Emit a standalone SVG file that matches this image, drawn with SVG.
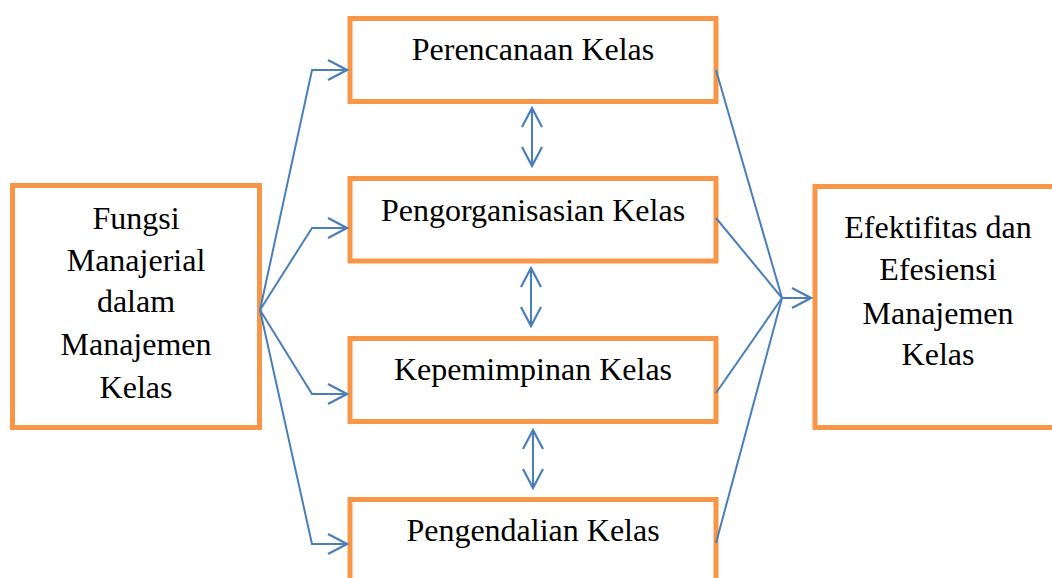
<svg xmlns="http://www.w3.org/2000/svg" width="1052" height="578" viewBox="0 0 1052 578">
<style>
.box{fill:#fff;stroke:#F79646;stroke-width:5}
.t{font-family:"Liberation Serif","Times New Roman",serif;font-size:32px;fill:#000;text-anchor:middle}
.c{fill:none;stroke:#4A7EBB;stroke-width:2;stroke-linejoin:miter}
</style>
<defs>
<marker id="ah" viewBox="0 0 22 22" refX="20" refY="11" markerWidth="22" markerHeight="22" markerUnits="userSpaceOnUse" orient="auto-start-reverse">
<path d="M1,1 L20,11 L1,21" fill="none" stroke="#4A7EBB" stroke-width="2.2"/>
</marker>
</defs>
<rect width="1052" height="578" fill="#fff"/>
<g id="node-fungsi">
<rect class="box" x="12.5" y="185.5" width="247" height="242"/>
<text class="t" x="136" y="229">Fungsi</text>
<text class="t" x="136" y="271">Manajerial</text>
<text class="t" x="136" y="312">dalam</text>
<text class="t" x="136" y="355">Manajemen</text>
<text class="t" x="136" y="398">Kelas</text>
</g>
<g id="node-perencanaan">
<rect class="box" x="350" y="18.5" width="366" height="83"/>
<text class="t" x="533" y="60">Perencanaan Kelas</text>
</g>
<g id="node-pengorganisasian">
<rect class="box" x="350" y="178.5" width="366" height="82.5"/>
<text class="t" x="533" y="221">Pengorganisasian Kelas</text>
</g>
<g id="node-kepemimpinan">
<rect class="box" x="350" y="338.5" width="366" height="83"/>
<text class="t" x="533" y="380">Kepemimpinan Kelas</text>
</g>
<g id="node-pengendalian">
<rect class="box" x="350" y="499.5" width="366" height="90"/>
<text class="t" x="533" y="541">Pengendalian Kelas</text>
</g>
<g id="node-efektifitas">
<rect class="box" x="815" y="186.5" width="250" height="241"/>
<text class="t" x="938" y="238">Efektifitas dan</text>
<text class="t" x="938" y="280">Efesiensi</text>
<text class="t" x="938" y="324">Manajemen</text>
<text class="t" x="938" y="365">Kelas</text>
</g>
<g id="connectors">
<path class="c" d="M260,310 L312,70 L347,70" marker-end="url(#ah)"/>
<path class="c" d="M260,310 L312,228 L347,228" marker-end="url(#ah)"/>
<path class="c" d="M260,310 L312,394 L347,394" marker-end="url(#ah)"/>
<path class="c" d="M260,310 L312,544 L347,544" marker-end="url(#ah)"/>
<path class="c" d="M716,70 L782,298"/>
<path class="c" d="M716,218 L782,298"/>
<path class="c" d="M716,393 L782,298"/>
<path class="c" d="M716,543 L782,298"/>
<path class="c" d="M782,298 L811,298" marker-end="url(#ah)"/>
<path class="c" d="M532,108 L532,166" marker-start="url(#ah)" marker-end="url(#ah)"/>
<path class="c" d="M531,268 L531,326" marker-start="url(#ah)" marker-end="url(#ah)"/>
<path class="c" d="M533,430 L533,488" marker-start="url(#ah)" marker-end="url(#ah)"/>
</g>
</svg>
